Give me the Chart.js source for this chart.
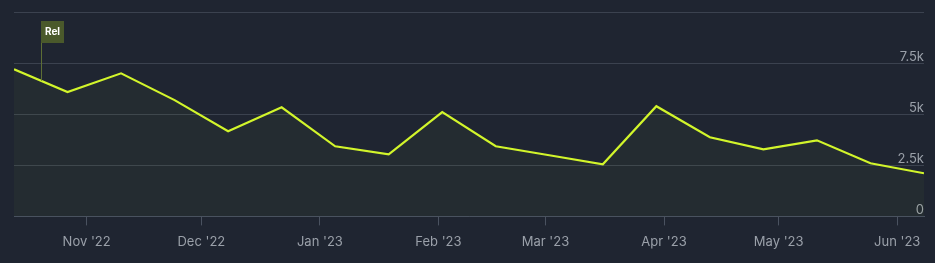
<!DOCTYPE html>
<html>
<head>
<meta charset="utf-8">
<script src="https://cdn.jsdelivr.net/npm/chart.js@4"></script>
<style>
  html, body { margin: 0; padding: 0; background: #1f2531; }
  #caja { width: 935px; height: 263px; }
</style>
</head>
<body>
<div id="caja"><canvas id="grafico"></canvas></div>
<script>
// datos (cada dos semanas)
const fechas = [
  "2022-10-13", "2022-10-27", "2022-11-10", "2022-11-24", "2022-12-08", "2022-12-22",
  "2023-01-05", "2023-01-19", "2023-02-02", "2023-02-16", "2023-03-02", "2023-03-16",
  "2023-03-30", "2023-04-13", "2023-04-27", "2023-05-11", "2023-05-25", "2023-06-08",
];
const valores = [
  7200, 6080, 7000, 5690, 4170, 5340,
  3430, 3040, 5100, 3430, 2990, 2550,
  5390, 3870, 3280, 3720, 2600, 2110,
];
const mesesTicks = [
  "2022-11-01", "2022-12-01", "2023-01-01", "2023-02-01",
  "2023-03-01", "2023-04-01", "2023-05-01", "2023-06-01",
];
const etiquetasMeses = ["Nov '22", "Dec '22", "Jan '23", "Feb '23", "Mar '23", "Apr '23", "May '23", "Jun '23"];
const yTicks = [0, 2500, 5000, 7500, 10000];
const yEtiquetas = ["0", "2.5k", "5k", "7.5k", ""];
const eventoFecha = "2022-10-20";
const eventoTexto = "Rel";

const dia = (s) => Date.parse(s + "T00:00:00Z") / 86400000;

const puntos = fechas.map((f, i) => ({ x: dia(f), y: valores[i] }));

// bandera del evento "Rel"
const bandera = {
  id: "bandera",
  afterDatasetsDraw(chart) {
    const { ctx, scales, chartArea } = chart;
    const d = dia(eventoFecha);
    let v = valores[0];
    for (let i = 0; i < puntos.length - 1; i++) {
      if (d >= puntos[i].x && d <= puntos[i + 1].x) {
        const t = (d - puntos[i].x) / (puntos[i + 1].x - puntos[i].x);
        v = puntos[i].y + t * (puntos[i + 1].y - puntos[i].y);
      }
    }
    const x = Math.round(scales.x.getPixelForValue(d)) + 0.5;
    const yLinea = scales.y.getPixelForValue(v);
    const top = chartArea.top + 9;
    ctx.save();
    ctx.strokeStyle = "#5d6e35";
    ctx.lineWidth = 1;
    ctx.beginPath();
    ctx.moveTo(x, top);
    ctx.lineTo(x, yLinea);
    ctx.stroke();
    ctx.fillStyle = "#4a592b";
    ctx.fillRect(x - 0.5, top, 23, 22);
    ctx.fillStyle = "#ffffff";
    ctx.font = "bold 10px Inter";
    ctx.textAlign = "center";
    ctx.textBaseline = "middle";
    ctx.fillText(eventoTexto, x + 11, top + 11);
    ctx.restore();
  },
};

const ctx = document.getElementById("grafico").getContext("2d");
new Chart(ctx, {
  type: "line",
  data: {
    datasets: [
      {
        data: puntos,
        borderColor: "#d2f52b",
        borderWidth: 2.2,
        backgroundColor: "rgba(190, 230, 60, 0.04)",
        fill: "origin",
        pointRadius: 0,
        tension: 0,
      },
    ],
  },
  options: {
    responsive: true,
    maintainAspectRatio: false,
    animation: false,
    layout: { padding: { left: 14, right: 11, top: 12, bottom: 4 } },
    plugins: { legend: { display: false }, tooltip: { enabled: false } },
    scales: {
      x: {
        type: "linear",
        min: dia(fechas[0]),
        max: dia(fechas[fechas.length - 1]),
        afterBuildTicks: (s) => {
          s.ticks = mesesTicks.map((m) => ({ value: dia(m) }));
        },
        ticks: {
          callback: (v) => etiquetasMeses[mesesTicks.findIndex((m) => dia(m) === v)],
          color: "#9aa0a9",
          font: { family: "Inter", size: 13 },
          padding: 9,
          maxRotation: 0,
          autoSkip: false,
        },
        grid: { drawOnChartArea: false, color: "#4a5260", tickLength: 9 },
        border: { color: "#4a5260" },
      },
      y: {
        position: "right",
        min: 0,
        max: 10000,
        afterBuildTicks: (s) => {
          s.ticks = yTicks.map((v) => ({ value: v }));
        },
        ticks: {
          mirror: true,
          callback: (v) => yEtiquetas[yTicks.indexOf(v)],
          color: "#9aa0a9",
          font: { family: "Inter", size: 13 },
          padding: 0,
          labelOffset: -6,
        },
        grid: { color: "#3b424f", drawTicks: false },
        border: { display: false },
      },
    },
  },
  plugins: [bandera],
});
</script>
</body>
</html>
